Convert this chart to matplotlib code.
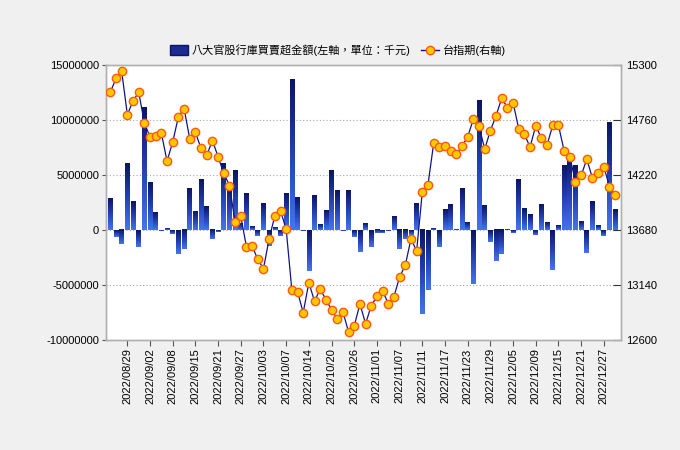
import numpy as np
import pandas as pd
import matplotlib
matplotlib.use('Agg')
import matplotlib.pyplot as plt
from matplotlib.colors import LinearSegmentedColormap
from matplotlib.patches import Patch
from matplotlib.lines import Line2D

plt.rcParams['font.family'] = ['Liberation Sans', 'Noto Sans CJK TC', 'DejaVu Sans']
plt.rcParams['font.size'] = 8

# trading days (TWSE), 9/9 and 10/10 closed
dates = pd.bdate_range('2022-08-24', '2022-12-29', freq='C',
                       holidays=['2022-09-09', '2022-10-10'])
date_labels = [d.strftime('%Y/%m/%d') for d in dates]

# buy/sell surplus, thousand NTD (left axis)
net_buy = [2.82, -0.61, -1.30, 6.00, 2.55, -1.52, 11.09, 4.27, 1.55, -0.06,
           0.18, -0.33, -2.15, -1.76, 3.73, 1.64, 4.55, 2.18, -0.85, -0.15,
           6.00, 4.03, 5.36, 0.60, 3.36, 0.36, -0.52, 2.45, -1.42, 0.27,
           -0.52, 3.36, 13.64, 2.91, -0.06, -3.70, 3.09, 0.48, 1.73, 5.36,
           3.55, -0.06, 3.55, -0.61, -1.97, 0.61, -1.52, -0.30, -0.24, -0.06,
           1.27, -1.76, -0.85, -0.45, 2.45, -7.67, -5.42, 0.15, -1.52, 1.82,
           2.36, 0.09, 3.73, 0.64, -4.88, 11.73, 2.27, -1.06, -2.82, -2.21,
           0.09, -0.24, 4.55, 1.91, 1.45, -0.42, 2.36, 0.64, -3.61, 0.39,
           5.82, 6.48, 5.82, 0.73, -2.06, 2.55, 0.45, -0.52, 9.73, 1.82]
net_buy = np.array(net_buy) * 1e6

# TX futures (right axis)
tx = [15032, 15166, 15235, 14812, 14943, 15032, 14731, 14590, 14603, 14629,
      14354, 14544, 14790, 14871, 14574, 14636, 14479, 14413, 14557, 14397,
      14236, 14115, 13755, 13814, 13513, 13520, 13392, 13300, 13595, 13818,
      13867, 13687, 13091, 13075, 12868, 13163, 12980, 13101, 12996, 12898,
      12806, 12878, 12679, 12738, 12954, 12760, 12937, 13029, 13081, 12957,
      13026, 13219, 13333, 13592, 13474, 14053, 14125, 14528, 14498, 14508,
      14456, 14423, 14502, 14593, 14767, 14698, 14472, 14655, 14799, 14973,
      14881, 14930, 14672, 14619, 14492, 14704, 14577, 14515, 14708, 14708,
      14456, 14400, 14151, 14214, 14374, 14187, 14240, 14299, 14106, 14027]

left_ticks = [-10000000, -5000000, 0, 5000000, 10000000, 15000000]
right_ticks = [12600, 13140, 13680, 14220, 14760, 15300]

fig = plt.figure(figsize=(6.8, 4.5), dpi=100, facecolor='#f0f0f0')
ax = fig.add_axes([0.156, 0.2444, 0.757, 0.6116])
ax.set_facecolor('white')

x = np.arange(len(dates))
w = 0.82
grad_cmap = LinearSegmentedColormap.from_list('bar', ['#0b1563', '#2440b4', '#4474ee'])
grad = np.linspace(0, 1, 64).reshape(-1, 1)
for xi, v in zip(x, net_buy):
    lo, hi = min(0, v), max(0, v)
    ax.imshow(grad, extent=[xi - w / 2, xi + w / 2, lo, hi], origin='upper',
              aspect='auto', cmap=grad_cmap, interpolation='bilinear', zorder=2)

ax.set_xlim(-0.75, len(dates))
ax.set_ylim(-10000000, 15000000)
ax.set_yticks(left_ticks)
ax.set_yticklabels([str(t) for t in left_ticks])
for t in left_ticks[1:-1]:
    ax.axhline(t, color='#a8a8a8', linestyle=(0, (1, 2)), linewidth=0.8, zorder=1)

tick_idx = x[3::4]
ax.set_xticks(tick_idx)
ax.set_xticklabels([date_labels[i] for i in tick_idx], rotation=90)
ax.tick_params(axis='x', length=4, color='#555555', pad=2)
ax.tick_params(axis='y', length=3, color='#555555', pad=2)

ax2 = ax.twinx()
ax2.plot(x, tx, color='#10148a', linewidth=0.9, marker='o', markersize=6,
         markerfacecolor='#ffc800', markeredgecolor='#ff5a10', markeredgewidth=1,
         zorder=3)
ax2.set_ylim(12600, 15300)
ax2.set_yticks(right_ticks)
ax2.tick_params(axis='y', direction='in', length=6, color='#333333', pad=4)

for a in (ax, ax2):
    for s in a.spines.values():
        s.set_color('#b0b0b0')
        s.set_linewidth(1)

handles = [Patch(facecolor='#1a2c92', edgecolor='#0b1563'),
           Line2D([0], [0], color='#10148a', linewidth=1, marker='o', markersize=6,
                  markerfacecolor='#ffc800', markeredgecolor='#ff5a10')]
fig.legend(handles, ['八大官股行庫買賣超金額(左軸，單位：千元)', '台指期(右軸)'],
           loc='center', bbox_to_anchor=(0.497, 0.889), ncol=2, frameon=False,
           handlelength=1.6, handleheight=0.9, columnspacing=0.9, handletextpad=0.4,
           fontsize=8)

fig.savefig('out.png', dpi=100, facecolor=fig.get_facecolor())
